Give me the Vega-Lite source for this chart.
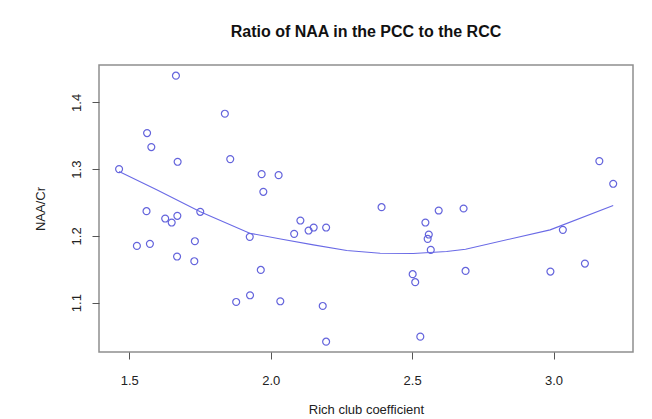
{
  "$schema": "https://vega.github.io/schema/vega-lite/v6.json",
  "width": 534,
  "height": 287,
  "autosize": {"type": "none"},
  "padding": {"left": 99, "top": 65, "right": 19, "bottom": 67},
  "background": "white",
  "title": {
    "text": "Ratio of NAA in the PCC to the RCC",
    "font": "Liberation Sans",
    "fontSize": 16,
    "fontWeight": "bold",
    "color": "#111111",
    "anchor": "middle",
    "baseline": "alphabetic",
    "offset": 12
  },
  "config": {
    "view": {"stroke": "#8f8f8f", "strokeWidth": 1.5},
    "axis": {
      "grid": false,
      "domain": false,
      "tickColor": "#555555",
      "tickSize": 7,
      "tickWidth": 1,
      "labelFont": "Liberation Sans",
      "labelFontSize": 13,
      "labelColor": "#222222",
      "titleFont": "Liberation Sans",
      "titleFontSize": 13,
      "titleFontWeight": "normal",
      "titleColor": "#222222"
    }
  },
  "datasets": {
    "pts": [
      {"rcc": 1.665, "naa": 1.440},
      {"rcc": 1.838, "naa": 1.383},
      {"rcc": 1.563, "naa": 1.354},
      {"rcc": 1.578, "naa": 1.333},
      {"rcc": 1.671, "naa": 1.311},
      {"rcc": 1.857, "naa": 1.315},
      {"rcc": 1.464, "naa": 1.300},
      {"rcc": 1.968, "naa": 1.2925},
      {"rcc": 2.028, "naa": 1.291},
      {"rcc": 1.974, "naa": 1.266},
      {"rcc": 1.561, "naa": 1.237},
      {"rcc": 1.627, "naa": 1.226},
      {"rcc": 1.650, "naa": 1.220},
      {"rcc": 1.670, "naa": 1.230},
      {"rcc": 1.751, "naa": 1.236},
      {"rcc": 1.926, "naa": 1.1985},
      {"rcc": 1.732, "naa": 1.192},
      {"rcc": 1.527, "naa": 1.185},
      {"rcc": 1.573, "naa": 1.188},
      {"rcc": 1.669, "naa": 1.169},
      {"rcc": 1.730, "naa": 1.162},
      {"rcc": 1.965, "naa": 1.149},
      {"rcc": 1.878, "naa": 1.101},
      {"rcc": 1.927, "naa": 1.111},
      {"rcc": 2.034, "naa": 1.102},
      {"rcc": 2.392, "naa": 1.243},
      {"rcc": 2.594, "naa": 1.238},
      {"rcc": 2.682, "naa": 1.241},
      {"rcc": 2.105, "naa": 1.223},
      {"rcc": 2.083, "naa": 1.203},
      {"rcc": 2.134, "naa": 1.208},
      {"rcc": 2.152, "naa": 1.2125},
      {"rcc": 2.196, "naa": 1.2125},
      {"rcc": 2.547, "naa": 1.220},
      {"rcc": 2.559, "naa": 1.202},
      {"rcc": 2.555, "naa": 1.1955},
      {"rcc": 2.566, "naa": 1.179},
      {"rcc": 2.502, "naa": 1.1426},
      {"rcc": 2.511, "naa": 1.1306},
      {"rcc": 2.689, "naa": 1.1475},
      {"rcc": 2.184, "naa": 1.095},
      {"rcc": 2.196, "naa": 1.0415},
      {"rcc": 2.529, "naa": 1.049},
      {"rcc": 3.162, "naa": 1.312},
      {"rcc": 3.211, "naa": 1.278},
      {"rcc": 3.033, "naa": 1.209},
      {"rcc": 2.989, "naa": 1.1465},
      {"rcc": 3.111, "naa": 1.1585}
    ],
    "fit": [
      {"rcc": 1.464, "naa": 1.2965},
      {"rcc": 1.597, "naa": 1.269},
      {"rcc": 1.751, "naa": 1.236},
      {"rcc": 1.926, "naa": 1.204},
      {"rcc": 2.040, "naa": 1.195},
      {"rcc": 2.151, "naa": 1.1865},
      {"rcc": 2.269, "naa": 1.178},
      {"rcc": 2.387, "naa": 1.174},
      {"rcc": 2.504, "naa": 1.1735},
      {"rcc": 2.622, "naa": 1.1765},
      {"rcc": 2.689, "naa": 1.180},
      {"rcc": 2.988, "naa": 1.209},
      {"rcc": 3.211, "naa": 1.2455}
    ]
  },
  "layer": [
    {
      "data": {"name": "pts"},
      "mark": {"type": "point", "shape": "circle", "filled": false, "stroke": "#6464dc", "strokeWidth": 1.2, "size": 48, "opacity": 1},
      "encoding": {
        "x": {
          "field": "rcc", "type": "quantitative",
          "scale": {"domain": [1.393, 3.281], "nice": false, "zero": false},
          "axis": {"values": [1.5, 2.0, 2.5, 3.0], "format": ".1f", "labelPadding": 15, "title": "Rich club coefficient", "titlePadding": 16}
        },
        "y": {
          "field": "naa", "type": "quantitative",
          "scale": {"domain": [1.026, 1.456], "nice": false, "zero": false},
          "axis": {"values": [1.1, 1.2, 1.3, 1.4], "format": ".1f", "labelAngle": -90, "labelAlign": "center", "labelBaseline": "alphabetic", "labelPadding": 12, "title": "NAA/Cr", "titlePadding": 23}
        }
      }
    },
    {
      "data": {"name": "fit"},
      "mark": {"type": "line", "stroke": "#6a6ae6", "strokeWidth": 1.1},
      "encoding": {
        "x": {"field": "rcc", "type": "quantitative"},
        "y": {"field": "naa", "type": "quantitative"}
      }
    }
  ]
}
